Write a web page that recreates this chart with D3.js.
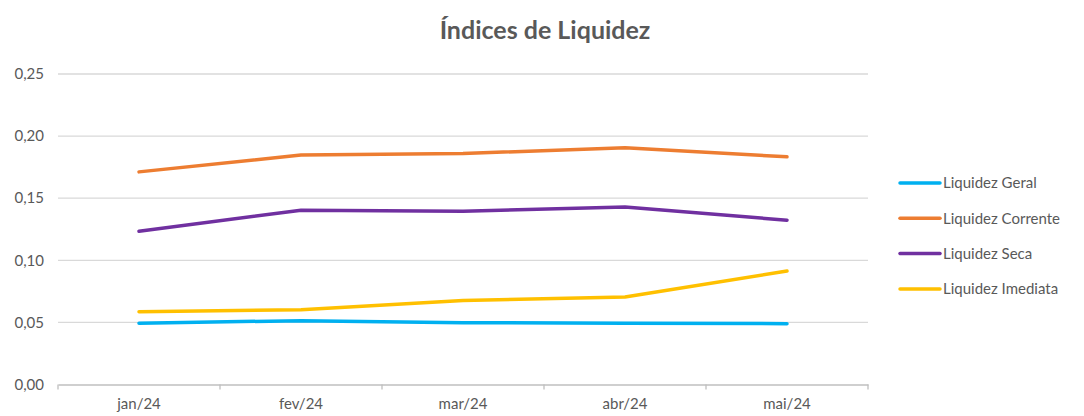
<!DOCTYPE html>
<html>
<head>
<meta charset="utf-8">
<script src="https://cdn.jsdelivr.net/npm/d3@7"></script>
<style>
  body { margin: 0; background: #fff; }
  text { font-family: Lato, "Open Sans", sans-serif; fill: #595959; }
</style>
</head>
<body>
<script>
var months = ["jan/24", "fev/24", "mar/24", "abr/24", "mai/24"];
var seriesNames = ["Liquidez Geral", "Liquidez Corrente", "Liquidez Seca", "Liquidez Imediata"];
var geral = [0.0494, 0.0514, 0.0498, 0.0494, 0.0490];
var corrente = [0.1712, 0.1847, 0.1860, 0.1906, 0.1833];
var seca = [0.1234, 0.1403, 0.1395, 0.1430, 0.1323];
var imediata = [0.0586, 0.0602, 0.0677, 0.0704, 0.0914];
var yTicks = [0, 0.05, 0.10, 0.15, 0.20, 0.25];
var colors = ["#00B0F0", "#ED7D31", "#7030A0", "#FFC000"];

var width = 1084, height = 416;
var plotLeft = 58, plotRight = 868, plotTop = 74, plotBottom = 384.5;

var svg = d3.select("body").append("svg")
    .attr("width", width)
    .attr("height", height);

var series = [geral, corrente, seca, imediata].map(function(vals, i) {
    return { name: seriesNames[i], color: colors[i], values: vals };
});

var xScale = d3.scaleBand().domain(months).range([plotLeft, plotRight]);
var yScale = d3.scaleLinear().domain([0, 0.25]).range([plotBottom, plotTop]);

// title
svg.append("text")
   .attr("x", 545).attr("y", 39)
   .attr("text-anchor", "middle")
   .style("font-size", "25px")
   .style("font-weight", "bold")
   .text("Índices de Liquidez");

// grid lines
svg.append("g").selectAll("line")
   .data(yTicks.slice(1))
   .enter().append("line")
   .attr("x1", plotLeft).attr("x2", plotRight)
   .attr("y1", function(d) { return yScale(d); })
   .attr("y2", function(d) { return yScale(d); })
   .attr("stroke", "#D9D9D9")
   .attr("stroke-width", 1.3);

// y axis labels
var fmt = function(d) { return d3.format(".2f")(d).replace(".", ","); };
svg.append("g").selectAll("text")
   .data(yTicks)
   .enter().append("text")
   .attr("x", 44)
   .attr("y", function(d) { return yScale(d); })
   .attr("dy", "0.35em")
   .attr("text-anchor", "end")
   .style("font-size", "15px")
   .text(fmt);

// x axis
var xAxis = d3.axisBottom(xScale).tickSize(0).tickPadding(14);
var gx = svg.append("g")
   .attr("transform", "translate(0," + plotBottom + ")")
   .call(xAxis);
gx.select(".domain").attr("stroke", "#BFBFBF").attr("stroke-width", 1.3);
gx.selectAll("text").style("font-size", "15px").attr("fill", "#595959")
   .style("font-family", "Lato, sans-serif");
gx.selectAll(".edge")
   .data(months.map(function(m) { return xScale(m); }).concat([plotRight]))
   .enter().append("line")
   .attr("x1", function(d) { return d; }).attr("x2", function(d) { return d; })
   .attr("y1", 0).attr("y2", 5)
   .attr("stroke", "#BFBFBF").attr("stroke-width", 1.3);

// lines
var line = d3.line()
   .x(function(d, i) { return xScale(months[i]) + xScale.bandwidth() / 2; })
   .y(function(d) { return yScale(d); });

svg.append("g").selectAll("path")
   .data(series)
   .enter().append("path")
   .attr("d", function(d) { return line(d.values); })
   .attr("fill", "none")
   .attr("stroke", function(d) { return d.color; })
   .attr("stroke-width", 3.5)
   .attr("stroke-linecap", "round")
   .attr("stroke-linejoin", "round");

// legend
var legend = svg.append("g").selectAll("g")
   .data(series)
   .enter().append("g")
   .attr("transform", function(d, i) { return "translate(900," + (183 + i * 35.3) + ")"; });
legend.append("line")
   .attr("x1", 0).attr("x2", 40)
   .attr("stroke", function(d) { return d.color; })
   .attr("stroke-width", 3.5)
   .attr("stroke-linecap", "round");
legend.append("text")
   .attr("x", 43).attr("dy", "0.35em")
   .style("font-size", "15px")
   .text(function(d) { return d.name; });
</script>
</body>
</html>
